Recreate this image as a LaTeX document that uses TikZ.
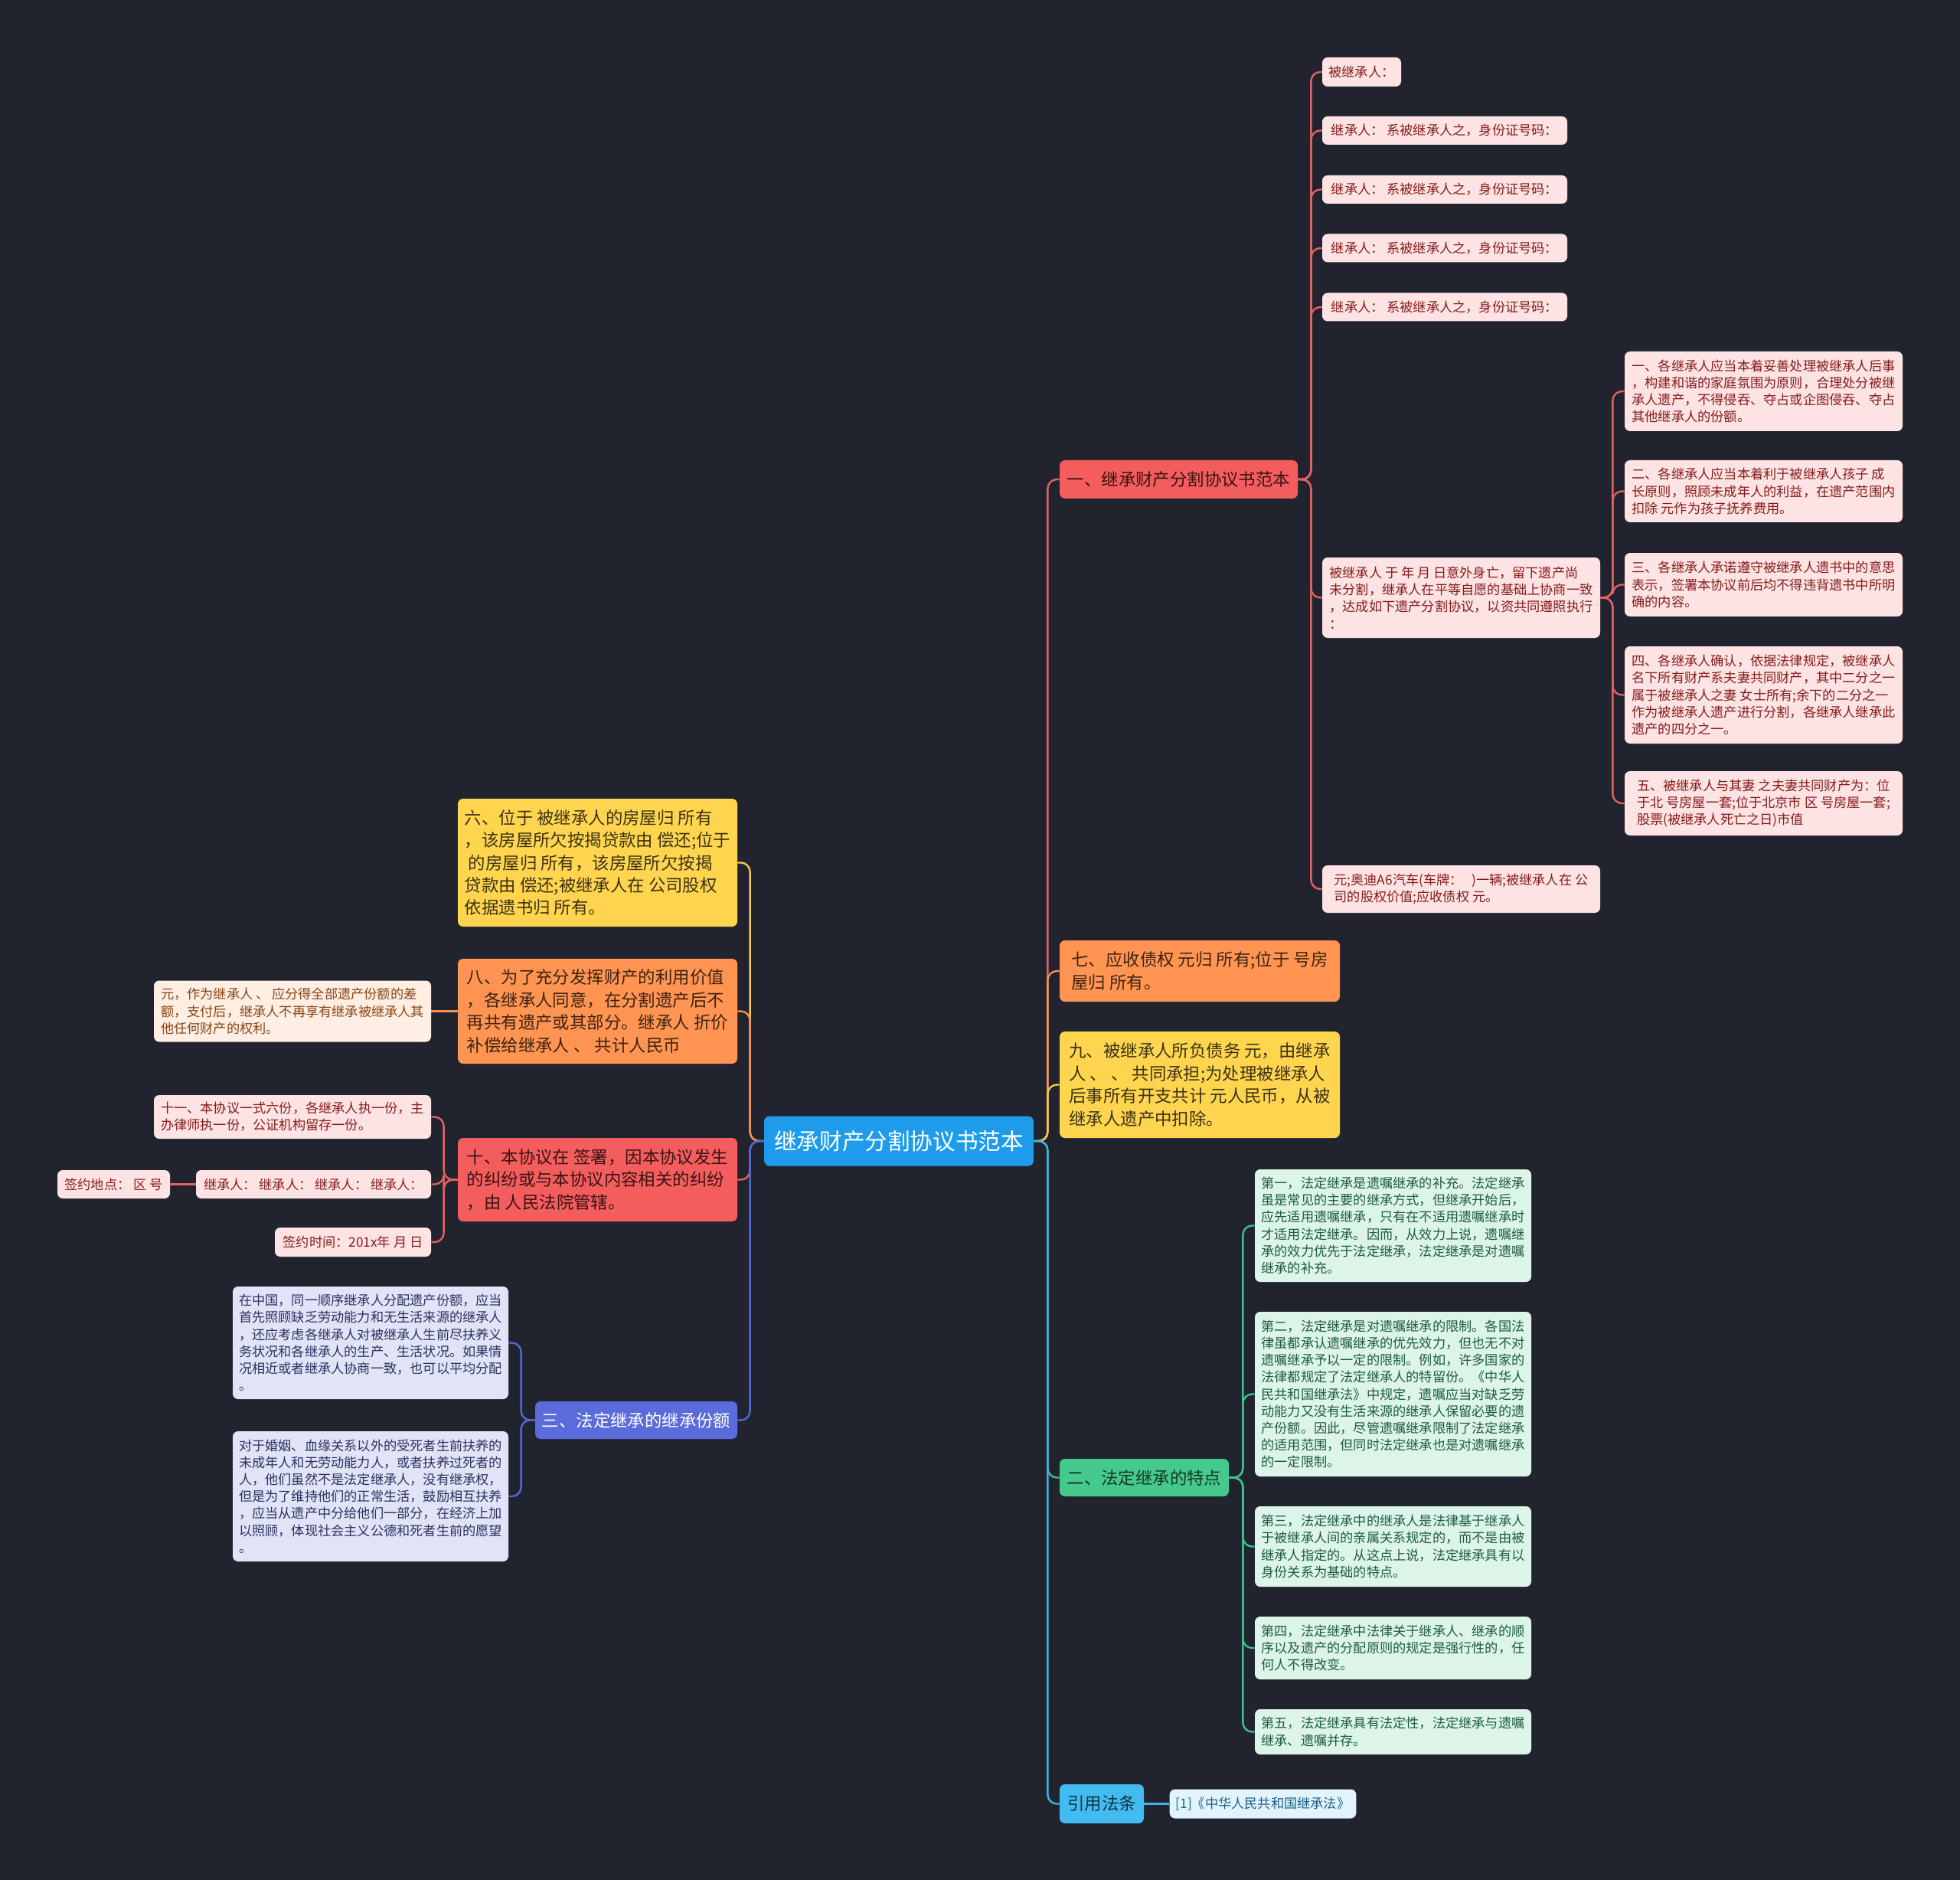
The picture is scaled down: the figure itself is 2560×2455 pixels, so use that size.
\documentclass[tikz,border=0pt]{standalone}
\usepackage{fontspec}
\setmainfont{Noto Sans CJK SC}
\definecolor{bgc}{HTML}{21242F}
\definecolor{cRed}{HTML}{E36161}
\definecolor{cOrange}{HTML}{F59252}
\definecolor{cYellow}{HTML}{F2C94C}
\definecolor{cGreen}{HTML}{3EC08A}
\definecolor{cBlue}{HTML}{5567D6}
\definecolor{cSky}{HTML}{3BB4EA}
\definecolor{redF}{HTML}{F45D5D}\definecolor{redT}{HTML}{3A1212}
\definecolor{orangeF}{HTML}{FF9453}\definecolor{orangeT}{HTML}{3D2410}
\definecolor{yellowF}{HTML}{FFD54F}\definecolor{yellowT}{HTML}{3B3215}
\definecolor{greenF}{HTML}{45C98D}\definecolor{greenT}{HTML}{113A26}
\definecolor{blueF}{HTML}{5A6BDB}
\definecolor{skyF}{HTML}{43BBF0}\definecolor{skyT}{HTML}{0F3347}
\definecolor{rootF}{HTML}{1E9CEB}
\definecolor{pinkF}{HTML}{FDE3E3}\definecolor{pinkT}{HTML}{861B1B}
\definecolor{lorF}{HTML}{FEEEE3}\definecolor{lorT}{HTML}{8A4513}
\definecolor{lgrF}{HTML}{DDF4E9}\definecolor{lgrT}{HTML}{1D5C3F}
\definecolor{lavF}{HTML}{E1E4F7}\definecolor{lavT}{HTML}{2C3160}
\definecolor{lskF}{HTML}{E1F4FC}\definecolor{lskT}{HTML}{1D5E88}
\begin{document}
\begin{tikzpicture}[x=0.5pt,y=-0.5pt,
  sz/.style 2 args={minimum width={#1*0.5pt}, minimum height={#2*0.5pt}},
  base/.style={rounded corners=3.5pt, inner xsep=4pt, inner ysep=3pt, align=left},
  smallf/.style={font=\fontsize{8.6pt}{11.1pt}\selectfont},
  bigf/.style={font=\fontsize{11.2pt}{14.7pt}\selectfont},
  rootbox/.style={base, fill=rootF, text=white, font=\fontsize{14.8pt}{18pt}\selectfont},
  redbox/.style={base, bigf, fill=redF, text=redT},
  orangebox/.style={base, bigf, fill=orangeF, text=orangeT},
  yellowbox/.style={base, bigf, fill=yellowF, text=yellowT},
  greenbox/.style={base, bigf, fill=greenF, text=greenT},
  bluebox/.style={base, bigf, fill=blueF, text=white},
  skybox/.style={base, bigf, fill=skyF, text=skyT},
  pinkbox/.style={base, smallf, fill=pinkF, text=pinkT},
  lorbox/.style={base, smallf, fill=lorF, text=lorT},
  lgrbox/.style={base, smallf, fill=lgrF, text=lgrT},
  lavbox/.style={base, smallf, fill=lavF, text=lavT},
  lskbox/.style={base, smallf, fill=lskF, text=lskT},
  conn/.style={line width=1.2pt, rounded corners=6pt}
]
\useasboundingbox (0,0) rectangle (2560,2455);
\fill[bgc] (0,0) rectangle (2560,2455);

% root
\node[rootbox, sz={352}{65}] (root) at (1174,1490) {继承财产分割协议书范本};

% ---------- right side ----------
\node[redbox, sz={311}{50}] (b1) at (1539.5,626) {一、继承财产分割协议书范本};
\node[pinkbox, sz={103}{38}] (n1) at (1778.5,94) {被继承人：};
\node[pinkbox, sz={320}{37}] (n2) at (1887,170.5) {继承人： 系被继承人之，身份证号码：};
\node[pinkbox, sz={320}{37}] (n3) at (1887,247.5) {继承人： 系被继承人之，身份证号码：};
\node[pinkbox, sz={320}{37}] (n4) at (1887,324) {继承人： 系被继承人之，身份证号码：};
\node[pinkbox, sz={320}{37}] (n5) at (1887,401) {继承人： 系被继承人之，身份证号码：};
\node[pinkbox, sz={363}{105}] (n6) at (1908.5,780.5) {被继承人 于 年 月 日意外身亡，留下遗产尚\\未分割，继承人在平等自愿的基础上协商一致\\，达成如下遗产分割协议，以资共同遵照执行\\：};
\node[pinkbox, sz={363}{62}] (n7) at (1908.5,1161) {元;奥迪A6汽车(车牌：\ \ \ )一辆;被继承人在 公\\司的股权价值;应收债权 元。};

\node[pinkbox, sz={363}{104}] (p1) at (2303.5,511) {一、各继承人应当本着妥善处理被继承人后事\\，构建和谐的家庭氛围为原则，合理处分被继\\承人遗产，不得侵吞、夺占或企图侵吞、夺占\\其他继承人的份额。};
\node[pinkbox, sz={363}{81}] (p2) at (2303.5,641.5) {二、各继承人应当本着利于被继承人孩子 成\\长原则，照顾未成年人的利益，在遗产范围内\\扣除 元作为孩子抚养费用。};
\node[pinkbox, sz={363}{83}] (p3) at (2303.5,763.5) {三、各继承人承诺遵守被继承人遗书中的意思\\表示，签署本协议前后均不得违背遗书中所明\\确的内容。};
\node[pinkbox, sz={363}{127}] (p4) at (2303.5,907.5) {四、各继承人确认，依据法律规定，被继承人\\名下所有财产系夫妻共同财产，其中二分之一\\属于被继承人之妻 女士所有;余下的二分之一\\作为被继承人遗产进行分割，各继承人继承此\\遗产的四分之一。};
\node[pinkbox, sz={363}{84}] (p5) at (2303.5,1049) {五、被继承人与其妻 之夫妻共同财产为：位\\于北 号房屋一套;位于北京市 区 号房屋一套;\\股票(被继承人死亡之日)市值};

\node[orangebox, sz={366}{80}] (b7) at (1567,1268) {七、应收债权 元归 所有;位于 号房\\屋归 所有。};
\node[yellowbox, sz={366}{139}] (b9) at (1567,1416.5) {九、被继承人所负债务 元，由继承\\人 、 、 共同承担;为处理被继承人\\后事所有开支共计 元人民币，从被\\继承人遗产中扣除。};

\node[greenbox, sz={221}{49}] (b2) at (1494.5,1929.5) {二、法定继承的特点};
\node[lgrbox, sz={361}{147}] (g1) at (1819.5,1600.5) {第一，法定继承是遗嘱继承的补充。法定继承\\虽是常见的主要的继承方式，但继承开始后，\\应先适用遗嘱继承，只有在不适用遗嘱继承时\\才适用法定继承。因而，从效力上说，遗嘱继\\承的效力优先于法定继承，法定继承是对遗嘱\\继承的补充。};
\node[lgrbox, sz={361}{215}] (g2) at (1819.5,1820.5) {第二，法定继承是对遗嘱继承的限制。各国法\\律虽都承认遗嘱继承的优先效力，但也无不对\\遗嘱继承予以一定的限制。例如，许多国家的\\法律都规定了法定继承人的特留份。《中华人\\民共和国继承法》中规定，遗嘱应当对缺乏劳\\动能力又没有生活来源的继承人保留必要的遗\\产份额。因此，尽管遗嘱继承限制了法定继承\\的适用范围，但同时法定继承也是对遗嘱继承\\的一定限制。};
\node[lgrbox, sz={361}{105}] (g3) at (1819.5,2019.5) {第三，法定继承中的继承人是法律基于继承人\\于被继承人间的亲属关系规定的，而不是由被\\继承人指定的。从这点上说，法定继承具有以\\身份关系为基础的特点。};
\node[lgrbox, sz={361}{82}] (g4) at (1819.5,2152) {第四，法定继承中法律关于继承人、继承的顺\\序以及遗产的分配原则的规定是强行性的，任\\何人不得改变。};
\node[lgrbox, sz={361}{59}] (g5) at (1819.5,2261.5) {第五，法定继承具有法定性，法定继承与遗嘱\\继承、遗嘱并存。};

\node[skybox, sz={110}{51}] (bref) at (1439,2355.5) {引用法条};
\node[lskbox, sz={243}{38}] (ref) at (1649.5,2355.5) {[1]《中华人民共和国继承法》};

% ---------- left side ----------
\node[yellowbox, sz={365}{167}] (b6) at (780.5,1126.5) {六、位于 被继承人的房屋归 所有\\，该房屋所欠按揭贷款由 偿还;位于\\\ 的房屋归 所有，该房屋所欠按揭\\贷款由 偿还;被继承人在 公司股权\\依据遗书归 所有。};
\node[orangebox, sz={365}{137}] (b8) at (780.5,1320.5) {八、为了充分发挥财产的利用价值\\，各继承人同意，在分割遗产后不\\再共有遗产或其部分。继承人 折价\\补偿给继承人 、 共计人民币};
\node[lorbox, sz={362}{80}] (e8) at (382,1320.5) {元，作为继承人 、 应分得全部遗产份额的差\\额，支付后，继承人不再享有继承被继承人其\\他任何财产的权利。};

\node[redbox, sz={365}{109}] (b10) at (780.5,1540.5) {十、本协议在 签署，因本协议发生\\的纠纷或与本协议内容相关的纠纷\\，由 人民法院管辖。};
\node[pinkbox, sz={362}{57}] (t1) at (382,1458.5) {十一、本协议一式六份，各继承人执一份，主\\办律师执一份，公证机构留存一份。};
\node[pinkbox, sz={307}{37}] (t2) at (409.5,1546.5) {继承人： 继承人： 继承人： 继承人：};
\node[pinkbox, sz={147}{37}] (t2c) at (148.5,1546.5) {签约地点： 区 号};
\node[pinkbox, sz={204}{38}] (t3) at (461,1622) {签约时间：201x年 月 日};

\node[bluebox, sz={264}{49}] (b3) at (831,1854.5) {三、法定继承的继承份额};
\node[lavbox, sz={360}{147}] (l1) at (484,1753.5) {在中国，同一顺序继承人分配遗产份额，应当\\首先照顾缺乏劳动能力和无生活来源的继承人\\，还应考虑各继承人对被继承人生前尽扶养义\\务状况和各继承人的生产、生活状况。如果情\\况相近或者继承人协商一致，也可以平均分配\\。};
\node[lavbox, sz={360}{170}] (l2) at (484,1954) {对于婚姻、血缘关系以外的受死者生前扶养的\\未成年人和无劳动能力人，或者扶养过死者的\\人，他们虽然不是法定继承人，没有继承权，\\但是为了维持他们的正常生活，鼓励相互扶养\\，应当从遗产中分给他们一部分，在经济上加\\以照顾，体现社会主义公德和死者生前的愿望\\。};

% ---------- connectors ----------
\draw[conn, cRed] (root.east) -- ++(18,0) |- (b1.west);
\draw[conn, cOrange] (root.east) -- ++(18,0) |- (b7.west);
\draw[conn, cYellow] (root.east) -- ++(18,0) |- (b9.west);
\draw[conn, cGreen] (root.east) -- ++(18,0) |- (b2.west);
\draw[conn, cSky] (root.east) -- ++(18,0) |- (bref.west);

\draw[conn, cYellow] (root.west) -- ++(-18,0) |- (b6.east);
\draw[conn, cOrange] (root.west) -- ++(-18,0) |- (b8.east);
\draw[conn, cRed] (root.west) -- ++(-18,0) |- (b10.east);
\draw[conn, cBlue] (root.west) -- ++(-18,0) |- (b3.east);

\foreach \c in {n1,n2,n3,n4,n5,n6,n7}
  \draw[conn, cRed] (b1.east) -- ++(17,0) |- (\c.west);
\foreach \c in {p1,p2,p3,p4,p5}
  \draw[conn, cRed] (n6.east) -- ++(16,0) |- (\c.west);
\foreach \c in {g1,g2,g3,g4,g5}
  \draw[conn, cGreen] (b2.east) -- ++(18,0) |- (\c.west);
\draw[conn, cSky] (bref.east) -- (ref.west);

\draw[conn, cOrange] (b8.west) -- (e8.east);
\foreach \c in {t1,t2,t3}
  \draw[conn, cRed] (b10.west) -- ++(-18,0) |- (\c.east);
\draw[conn, cRed] (t2.west) -- (t2c.east);
\foreach \c in {l1,l2}
  \draw[conn, cBlue] (b3.west) -- ++(-18,0) |- (\c.east);
\end{tikzpicture}
\end{document}
